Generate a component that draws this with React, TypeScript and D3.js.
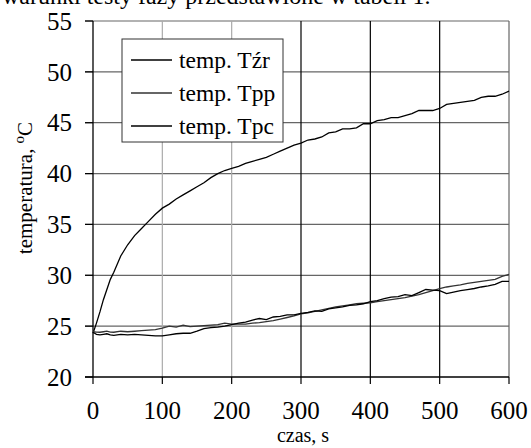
import React from 'react';
import * as d3 from 'd3';

// czas, s
const czas = [
  0, 5, 10, 15, 20, 25, 30, 40, 50, 60, 70, 80, 90, 100, 110, 120, 130, 140, 150, 160, 170, 180, 190, 200,
  210, 220, 230, 240, 250, 260, 270, 280, 290, 300, 310, 320, 330, 340, 350, 360, 370, 380, 390, 400,
  410, 420, 430, 440, 450, 460, 470, 480, 490, 500, 510, 520, 530, 540, 550, 560, 570, 580, 590, 600,
];

const tZr = [
  24.3, 25.3, 26.4, 27.6, 28.6, 29.6, 30.3, 31.9, 33.0, 33.9, 34.6, 35.3, 36.0, 36.6, 37.0, 37.5, 37.9, 38.3, 38.7, 39.1, 39.6, 40.0, 40.3, 40.5,
  40.7, 41.0, 41.2, 41.4, 41.6, 41.9, 42.2, 42.5, 42.8, 43.0, 43.3, 43.4, 43.6, 44.0, 44.1, 44.4, 44.4, 44.5, 44.9, 44.9,
  45.2, 45.3, 45.5, 45.5, 45.7, 45.9, 46.2, 46.2, 46.2, 46.4, 46.8, 46.9, 47.0, 47.1, 47.2, 47.5, 47.6, 47.6, 47.8, 48.1,
];

const tPp = [
  24.45, 24.42, 24.4, 24.45, 24.5, 24.42, 24.4, 24.5, 24.45, 24.5, 24.55, 24.6, 24.65, 24.8, 25.0, 24.9, 25.1, 24.95, 25.0, 25.05, 25.1, 25.15, 25.3, 25.2,
  25.2, 25.2, 25.3, 25.35, 25.45, 25.55, 25.7, 25.85, 26.0, 26.2, 26.3, 26.45, 26.6, 26.75, 26.9, 27.0, 27.1, 27.2, 27.25, 27.3,
  27.4, 27.5, 27.6, 27.7, 27.8, 27.95, 28.1, 28.3, 28.5, 28.7, 28.85, 28.95, 29.05, 29.2, 29.3, 29.4, 29.5, 29.6, 29.9, 30.1,
];

const tPc = [
  24.4, 24.2, 24.15, 24.2, 24.25, 24.15, 24.1, 24.2, 24.15, 24.2, 24.15, 24.1, 24.05, 24.05, 24.15, 24.25, 24.3, 24.3, 24.5, 24.75, 24.85, 24.9, 25.0, 25.15,
  25.3, 25.4, 25.6, 25.75, 25.65, 25.9, 25.95, 26.1, 26.1, 26.25, 26.35, 26.5, 26.45, 26.7, 26.8, 26.9, 27.05, 27.1, 27.2, 27.4,
  27.5, 27.7, 27.85, 27.9, 28.1, 28.0, 28.3, 28.6, 28.55, 28.5, 28.2, 28.35, 28.5, 28.6, 28.7, 28.85, 28.95, 29.1, 29.4, 29.4,
];

const serie = [
  { nazwa: 'temp. Tźr', dane: tZr, kolor: '#000' },
  { nazwa: 'temp. Tpp', dane: tPp, kolor: '#333' },
  { nazwa: 'temp. Tpc', dane: tPc, kolor: '#000' },
];

const xTicks = [0, 100, 200, 300, 400, 500, 600];
const yTicks = [20, 25, 30, 35, 40, 45, 50, 55];
const vGridColor: Record<number, string> = { 100: '#aaa', 200: '#aaa', 300: '#000', 400: '#000', 500: '#000', 600: '#666' };

const W = 531;
const H = 448;
const font = "'Liberation Serif', 'Times New Roman', serif";

export default function App() {
  const x = d3.scaleLinear().domain([0, 600]).range([93, 509]);
  const y = d3.scaleLinear().domain([20, 55]).range([377, 21]);

  const line = (dane: number[]) =>
    d3
      .line<number>()
      .x((_, i) => x(czas[i]))
      .y(d => y(d))(dane) as string;

  return (
    <svg width={W} height={H} style={{ position: 'absolute', left: 0, top: 0, background: '#fff', fontFamily: font }}>
      <rect width={W} height={H} fill="#fff" />
      {/* obcięty tekst z dokumentu, widoczny tylko dół liter */}
      <text x={2} y={4} fontSize={24} fill="#000">
        warunki testy fazy przedstawione w tabeli 1.
      </text>

      {/* siatka pozioma */}
      {yTicks.slice(1).map(t => (
        <line key={'h' + t} x1={85} x2={509} y1={y(t)} y2={y(t)} stroke="#666" strokeWidth={1.2} />
      ))}
      {/* siatka pionowa */}
      {xTicks.slice(1).map(t => (
        <line key={'v' + t} x1={x(t)} x2={x(t)} y1={y(55)} y2={y(20)} stroke={vGridColor[t]} strokeWidth={1.2} />
      ))}
      {/* osie */}
      <line x1={x(0)} x2={x(0)} y1={y(55)} y2={y(20)} stroke="#000" strokeWidth={1.3} />
      <line x1={85} x2={x(600)} y1={y(20)} y2={y(20)} stroke="#000" strokeWidth={1.3} />
      {yTicks.map(t => (
        <line key={'yt' + t} x1={85} x2={x(0)} y1={y(t)} y2={y(t)} stroke="#000" strokeWidth={1.2} />
      ))}
      {xTicks.map(t => (
        <line key={'xt' + t} x1={x(t)} x2={x(t)} y1={y(20)} y2={y(20) + 7} stroke="#000" strokeWidth={1.2} />
      ))}
      {yTicks.map(t => (
        <text key={'yl' + t} x={72} y={y(t)} dy="0.35em" textAnchor="end" fontSize={25}>
          {t}
        </text>
      ))}
      {xTicks.map(t => (
        <text key={'xl' + t} x={x(t)} y={419} textAnchor="middle" fontSize={25}>
          {t}
        </text>
      ))}
      <text x={303} y={442} textAnchor="middle" fontSize={20}>
        czas, s
      </text>
      <text transform="translate(32,188) rotate(-90)" textAnchor="middle" fontSize={21}>
        temperatura,{' '}
        <tspan baselineShift="super" fontSize={15}>
          o
        </tspan>
        C
      </text>

      {/* serie */}
      {serie.map(s => (
        <path key={s.nazwa} d={line(s.dane)} fill="none" stroke={s.kolor} strokeWidth={1.3} />
      ))}

      {/* legenda */}
      <rect x={122} y={39} width={161} height={103} fill="#fff" stroke="#333" strokeWidth={1} />
      {serie.map((s, i) => (
        <g key={'lg' + i} transform={`translate(0,${60 + i * 33})`}>
          <line x1={131} x2={172} y1={0} y2={0} stroke={s.kolor} strokeWidth={1.3} />
          <text x={179} y={0} dy="0.32em" fontSize={23.5}>
            {s.nazwa}
          </text>
        </g>
      ))}
    </svg>
  );
}
